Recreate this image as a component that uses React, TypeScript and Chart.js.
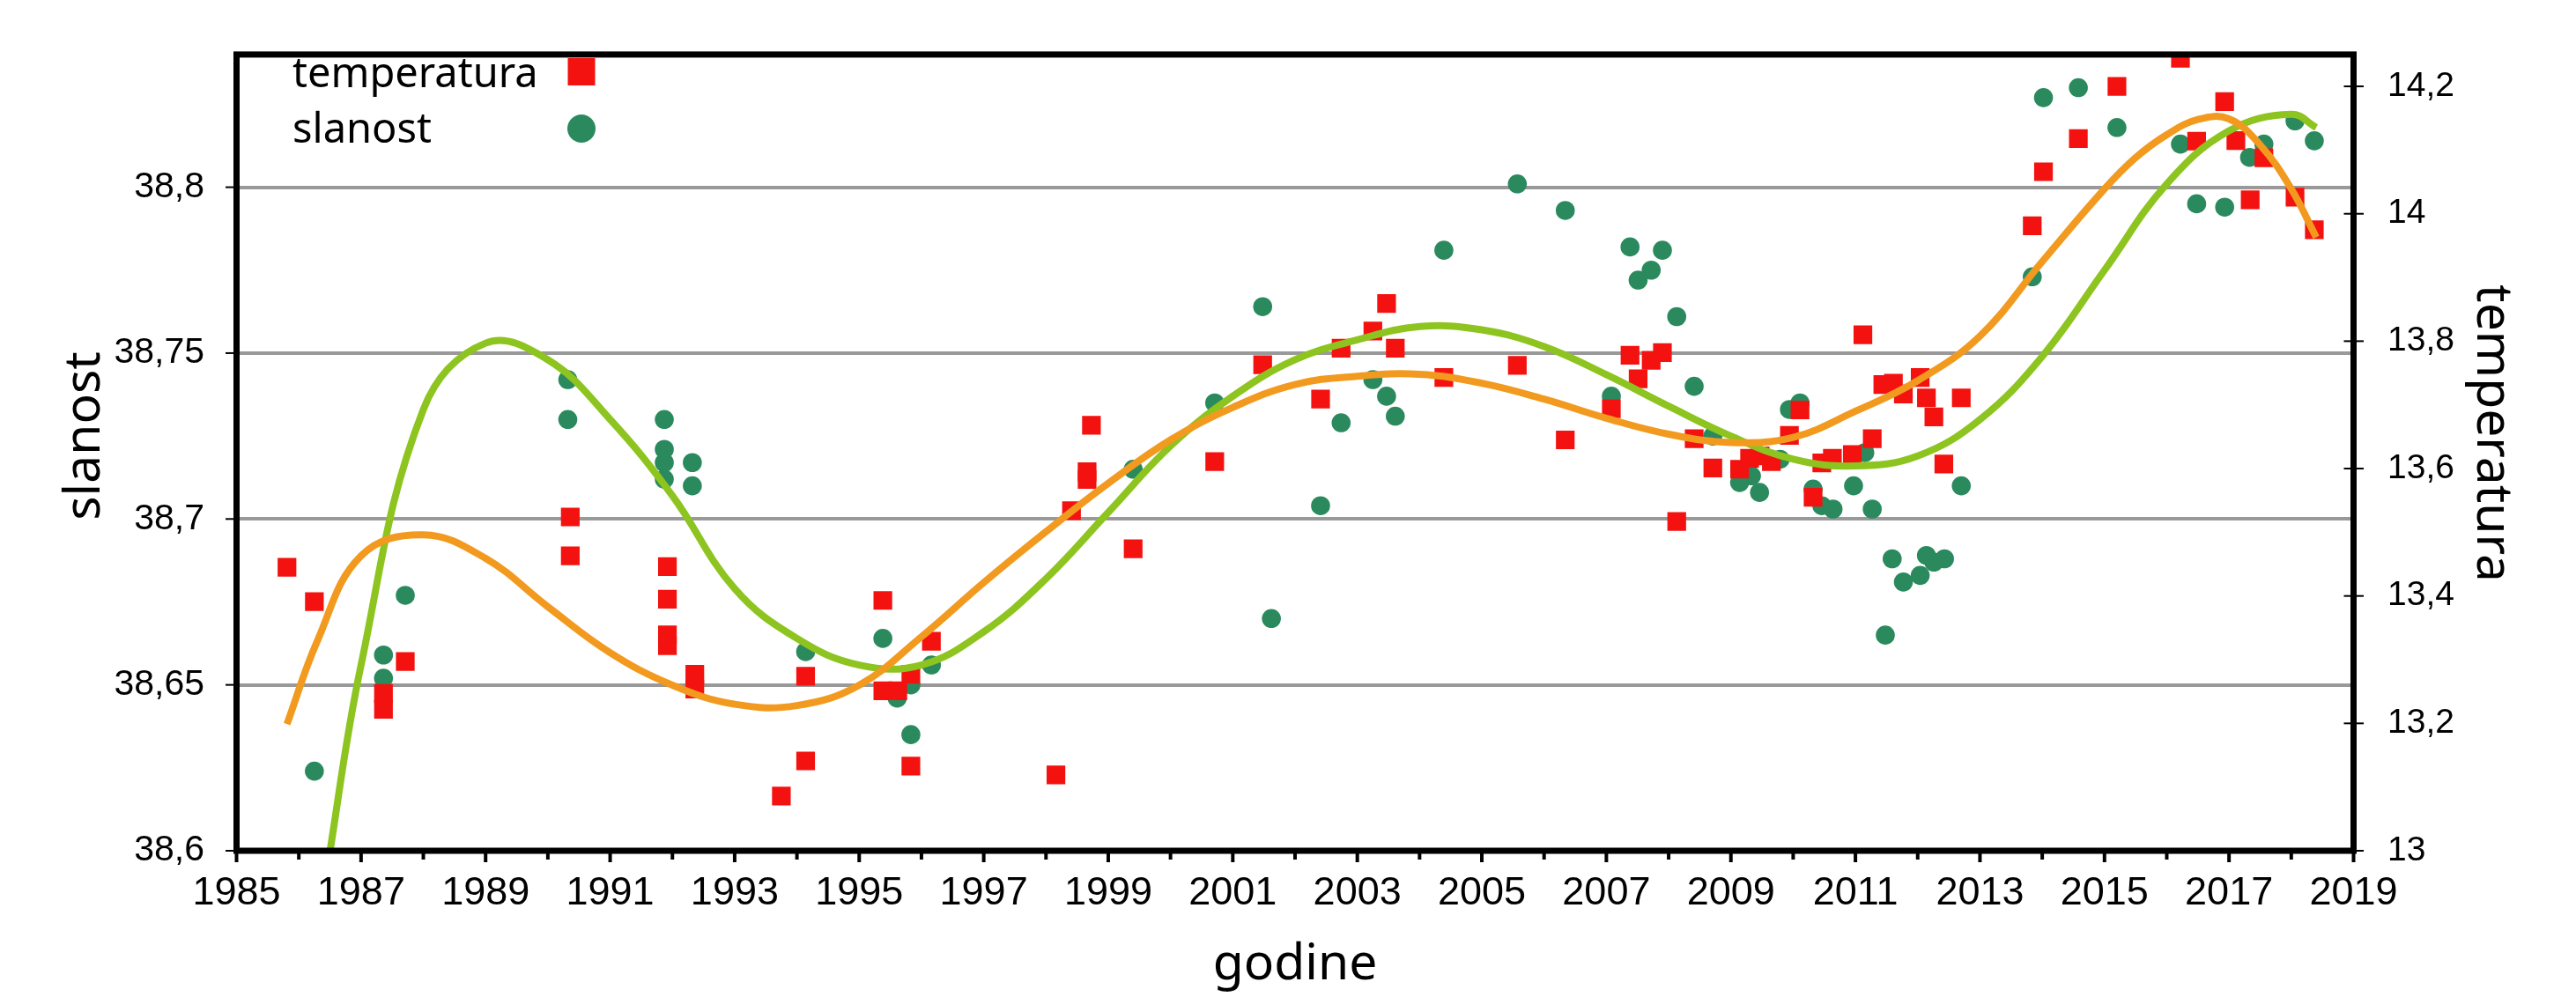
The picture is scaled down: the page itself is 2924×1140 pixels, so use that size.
import { useEffect, useRef } from "react";
import { Chart, registerables } from "chart.js";

Chart.register(...registerables);

// temperatura (right axis)
const tempYears = [
  1985.81, 1986.25, 1987.36, 1987.36, 1987.71, 1990.36, 1990.36, 1991.92, 1991.92, 1991.92,
  1991.92, 1992.36, 1992.36, 1993.75, 1994.14, 1994.14, 1995.38, 1995.38, 1995.62, 1995.83,
  1995.83, 1996.16, 1998.16, 1998.41, 1998.66, 1998.66, 1998.73, 1999.4, 2000.71, 2001.48,
  2002.41, 2002.74, 2003.25, 2003.47, 2003.61, 2004.39, 2005.57, 2006.34, 2007.08, 2007.38,
  2007.51, 2007.72, 2007.9, 2008.13, 2008.41, 2008.71, 2009.14, 2009.3, 2009.47, 2009.65,
  2009.94, 2010.11, 2010.32, 2010.46, 2010.63, 2010.95, 2011.12, 2011.27, 2011.44, 2011.61,
  2011.77, 2012.04, 2012.14, 2012.26, 2012.42, 2012.7, 2013.84, 2014.02, 2014.58, 2015.2,
  2016.22, 2016.48, 2016.93, 2017.11, 2017.34, 2017.56, 2018.06, 2018.37,
];
const tempValues = [
  13.445, 13.391, 13.247, 13.222, 13.297, 13.524, 13.463, 13.446, 13.395, 13.339,
  13.322, 13.277, 13.254, 13.086, 13.141, 13.274, 13.393, 13.251, 13.251, 13.277,
  13.133, 13.329, 13.119, 13.534, 13.583, 13.595, 13.668, 13.474, 13.611, 13.763,
  13.709, 13.789, 13.816, 13.859, 13.789, 13.743, 13.762, 13.645, 13.694, 13.778,
  13.741, 13.77, 13.782, 13.517, 13.647, 13.601, 13.599, 13.616, 13.62, 13.611,
  13.652, 13.692, 13.555, 13.609, 13.616, 13.622, 13.81, 13.647, 13.732, 13.734,
  13.717, 13.743, 13.711, 13.681, 13.607, 13.711, 13.981, 14.066, 14.118, 14.2,
  14.244, 14.114, 14.176, 14.115, 14.022, 14.088, 14.026, 13.975,
];

// slanost (left axis)
const salYears = [
  1986.25, 1987.36, 1987.36, 1987.71, 1990.32, 1990.32, 1991.87, 1991.87, 1991.87, 1991.87,
  1992.32, 1992.32, 1994.14, 1995.38, 1995.61, 1995.83, 1995.83, 1996.16, 1999.4, 2000.71,
  2001.48, 2001.62, 2002.41, 2002.74, 2003.25, 2003.47, 2003.61, 2004.39, 2005.57, 2006.34,
  2007.08, 2007.38, 2007.51, 2007.72, 2007.9, 2008.13, 2008.41, 2008.71, 2009.14, 2009.33,
  2009.46, 2009.79, 2009.94, 2010.11, 2010.32, 2010.46, 2010.64, 2010.97, 2011.15, 2011.27,
  2011.48, 2011.59, 2011.77, 2012.04, 2012.14, 2012.26, 2012.43, 2012.7, 2013.84, 2014.02,
  2014.58, 2015.2, 2016.22, 2016.48, 2016.93, 2017.33, 2017.56, 2018.06, 2018.37,
];
const salValues = [
  38.624, 38.659, 38.652, 38.677, 38.742, 38.73, 38.73, 38.721, 38.717, 38.712,
  38.717, 38.71, 38.66, 38.664, 38.646, 38.65, 38.635, 38.656, 38.715, 38.735,
  38.764, 38.67, 38.704, 38.729, 38.742, 38.737, 38.731, 38.781, 38.801, 38.793,
  38.737, 38.782, 38.772, 38.775, 38.781, 38.761, 38.74, 38.725, 38.711, 38.713,
  38.708, 38.718, 38.733, 38.735, 38.709, 38.704, 38.703, 38.71, 38.72, 38.703,
  38.665, 38.688, 38.681, 38.683, 38.689, 38.687, 38.688, 38.71, 38.773, 38.827,
  38.83, 38.818, 38.813, 38.795, 38.794, 38.809, 38.813, 38.82, 38.814,
];

// trend lines
const tempTrendYears = [
  1985.81, 1986.3, 1987, 1988, 1989, 1990, 1991, 1992, 1993, 1994, 1995, 1996, 1997,
  1998, 1999, 2000, 2001, 2002, 2003, 2004, 2005, 2006, 2007, 2008, 2009, 2010, 2011,
  2012, 2013, 2014, 2015, 2015.5, 2016, 2016.5, 2017, 2017.5, 2018, 2018.4,
];
const tempTrendValues = [
  13.199, 13.33, 13.463, 13.496, 13.459, 13.383, 13.311, 13.26, 13.23, 13.228, 13.26, 13.336, 13.421,
  13.501, 13.577, 13.645, 13.696, 13.732, 13.745, 13.748, 13.734, 13.709, 13.679, 13.654, 13.641, 13.649, 13.69,
  13.738, 13.808, 13.925, 14.039, 14.088, 14.124, 14.148, 14.149, 14.108, 14.039, 13.963,
];
const salTrendYears = [
  1986.45, 1987, 1988, 1989, 1990, 1991, 1992, 1993, 1994, 1995, 1996, 1997, 1998,
  1999, 2000, 2001, 2002, 2003, 2004, 2005, 2006, 2007, 2008, 2009, 2010, 2011, 2012,
  2013, 2014, 2015, 2016, 2017, 2018, 2018.4,
];
const salTrendValues = [
  38.594, 38.656, 38.733, 38.753, 38.748, 38.73, 38.707, 38.679, 38.664, 38.656, 38.656, 38.666, 38.682,
  38.702, 38.722, 38.737, 38.748, 38.754, 38.758, 38.757, 38.752, 38.7435, 38.734, 38.725, 38.718, 38.716, 38.719,
  38.73, 38.749, 38.775, 38.801, 38.817, 38.822, 38.818,
];

const yearTicks = [
  1985, 1986, 1987, 1988, 1989, 1990, 1991, 1992, 1993, 1994, 1995, 1996, 1997, 1998,
  1999, 2000, 2001, 2002, 2003, 2004, 2005, 2006, 2007, 2008, 2009, 2010, 2011, 2012,
  2013, 2014, 2015, 2016, 2017, 2018, 2019,
];
const yearLabels = [
  "1985", "", "1987", "", "1989", "", "1991", "", "1993", "", "1995", "", "1997", "",
  "1999", "", "2001", "", "2003", "", "2005", "", "2007", "", "2009", "", "2011", "",
  "2013", "", "2015", "", "2017", "", "2019",
];
const salTicks = [38.6, 38.65, 38.7, 38.75, 38.8];
const salLabels = ["38,6", "38,65", "38,7", "38,75", "38,8"];
const tempTicks = [13, 13.2, 13.4, 13.6, 13.8, 14, 14.2];
const tempLabels = ["13", "13,2", "13,4", "13,6", "13,8", "14", "14,2"];

const RED = "#f3120f";
const GREEN = "#2a8a5e";
const ORANGE = "#f29a1f";
const LIME = "#8dc41f";
const TITLE_FONT = '"Noto Sans", sans-serif';
const TICK_FONT = '"Liberation Sans", Arial, sans-serif';

const toPoints = (xs: number[], ys: number[]) => xs.map((x, i) => ({ x, y: ys[i] }));

// axis frame, tick marks, titles and the legend, drawn over the plot
const decorPlugin = {
  id: "decor",
  afterDraw(chart: Chart) {
    const { ctx, chartArea: a, scales } = chart;
    const line = (x1: number, y1: number, x2: number, y2: number) => {
      ctx.beginPath();
      ctx.moveTo(x1, y1);
      ctx.lineTo(x2, y2);
      ctx.stroke();
    };
    ctx.save();
    ctx.strokeStyle = "#000";
    ctx.lineCap = "butt";

    ctx.lineWidth = 4;
    yearTicks.forEach((yr) => {
      const px = scales.x.getPixelForValue(yr);
      line(px, a.bottom, px, a.bottom + (yr % 2 === 1 ? 13 : 10));
    });
    ctx.lineWidth = 2;
    salTicks.forEach((v) => {
      const py = scales.y.getPixelForValue(v);
      line(a.left - 12.5, py, a.left, py);
    });
    tempTicks.forEach((v) => {
      const py = scales.y1.getPixelForValue(v);
      line(a.right - 11, py, a.right + 11.5, py);
    });

    ctx.lineWidth = 7;
    ctx.strokeRect(a.left, a.top, a.right - a.left, a.bottom - a.top);

    ctx.fillStyle = "#000";
    ctx.font = `57px ${TITLE_FONT}`;
    ctx.textAlign = "center";
    ctx.textBaseline = "alphabetic";
    ctx.fillText("godine", (a.left + a.right) / 2, 1112);

    ctx.save();
    ctx.translate(113, 495);
    ctx.rotate(-Math.PI / 2);
    ctx.fillText("slanost", 0, 0);
    ctx.restore();

    ctx.save();
    ctx.translate(2812, 492);
    ctx.rotate(Math.PI / 2);
    ctx.fillText("temperatura", 0, 0);
    ctx.restore();

    ctx.font = `47px ${TITLE_FONT}`;
    ctx.textAlign = "left";
    ctx.fillText("temperatura", 332, 99);
    ctx.fillText("slanost", 332, 162);
    ctx.fillStyle = RED;
    ctx.fillRect(644.5, 66, 31, 31);
    ctx.fillStyle = GREEN;
    ctx.beginPath();
    ctx.arc(660, 146, 16, 0, Math.PI * 2);
    ctx.fill();

    ctx.restore();
  },
};

export default function App() {
  const canvasRef = useRef<HTMLCanvasElement | null>(null);

  useEffect(() => {
    document.body.style.margin = "0";
    if (!canvasRef.current) return;
    const chart = new Chart(canvasRef.current, {
      type: "scatter",
      data: {
        datasets: [
          {
            label: "temperatura trend",
            data: toPoints(tempTrendYears, tempTrendValues),
            yAxisID: "y1",
            showLine: true,
            borderColor: ORANGE,
            borderWidth: 8,
            pointRadius: 0,
            tension: 0.4,
            order: 0,
          },
          {
            label: "slanost trend",
            data: toPoints(salTrendYears, salTrendValues),
            yAxisID: "y",
            showLine: true,
            borderColor: LIME,
            borderWidth: 8,
            pointRadius: 0,
            tension: 0.4,
            order: 1,
          },
          {
            label: "temperatura",
            data: toPoints(tempYears, tempValues),
            yAxisID: "y1",
            pointStyle: "rect",
            pointRadius: 15,
            backgroundColor: RED,
            borderWidth: 0,
            order: 2,
          },
          {
            label: "slanost",
            data: toPoints(salYears, salValues),
            yAxisID: "y",
            pointStyle: "circle",
            pointRadius: 10.8,
            backgroundColor: GREEN,
            borderWidth: 0,
            order: 3,
          },
        ],
      },
      options: {
        responsive: true,
        maintainAspectRatio: false,
        animation: false,
        layout: { padding: { top: 43.5, left: 0, right: 0, bottom: 0 } },
        plugins: { legend: { display: false }, tooltip: { enabled: false } },
        scales: {
          x: {
            type: "linear",
            min: 1985,
            max: 2019,
            afterBuildTicks: (s: any) => {
              s.ticks = yearTicks.map((v) => ({ value: v }));
            },
            afterFit: (s: any) => {
              s.height = 174;
            },
            grid: { display: false, drawTicks: false },
            border: { display: false },
            ticks: {
              autoSkip: false,
              maxRotation: 0,
              padding: 22,
              color: "#000",
              font: { family: TICK_FONT, size: 45 },
              callback: (_v: any, i: number) => yearLabels[i],
            },
          },
          y: {
            type: "linear",
            position: "left",
            min: 38.6,
            max: 38.84,
            afterBuildTicks: (s: any) => {
              s.ticks = salTicks.map((v) => ({ value: v }));
            },
            afterFit: (s: any) => {
              s.width = 268.5;
            },
            grid: {
              drawTicks: false,
              lineWidth: 4,
              color: (c: any) => (c.tick && c.tick.value === 38.6 ? "rgba(0,0,0,0)" : "#999999"),
            },
            border: { display: false },
            ticks: {
              padding: 36.5,
              color: "#000",
              font: { family: TICK_FONT, size: 41 },
              callback: (_v: any, i: number) => salLabels[i],
            },
          },
          y1: {
            type: "linear",
            position: "right",
            min: 13,
            max: 14.25,
            afterBuildTicks: (s: any) => {
              s.ticks = tempTicks.map((v) => ({ value: v }));
            },
            afterFit: (s: any) => {
              s.width = 252.5;
            },
            grid: { display: false, drawTicks: false },
            border: { display: false },
            ticks: {
              padding: 38.5,
              color: "#000",
              font: { family: TICK_FONT, size: 39 },
              callback: (_v: any, i: number) => tempLabels[i],
            },
          },
        },
      },
      plugins: [decorPlugin],
    });
    return () => chart.destroy();
  }, []);

  return (
    <div style={{ width: 2924, height: 1140, background: "#fff" }}>
      <canvas ref={canvasRef} />
    </div>
  );
}
